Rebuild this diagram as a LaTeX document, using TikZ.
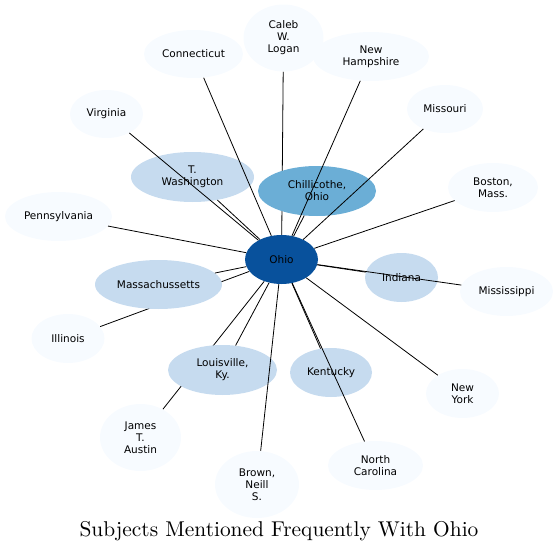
\documentclass[tikz,border=0pt]{standalone}
\usepackage{fontspec}
\newfontfamily\labelfont{DejaVu Sans}
\newfontfamily\titlefont{lmroman10-regular.otf}
\usetikzlibrary{shapes,positioning,backgrounds}
\definecolor{paleblue}{HTML}{F7FBFF}
\definecolor{lightblue}{HTML}{C6DBEF}
\definecolor{midblue}{HTML}{6BAED6}
\definecolor{darkblue}{HTML}{08519C}
\tikzset{
	subject/.style={ellipse, inner sep=0pt, minimum height=49pt, align=center,
		font=\labelfont\fontsize{10.5}{12}\selectfont},
	rare/.style={subject, fill=paleblue},
	common/.style={subject, fill=lightblue},
	link/.style={line width=0.8pt}
}

\begin{document}
\begin{tikzpicture}[x=1pt,y=-1pt]
	\useasboundingbox (0,0) rectangle (558,554);
	% Draw subjects
	\node[subject, fill=darkblue, minimum width=73pt] (ohio) at (281.5,259.5) {Ohio};
	\node[subject, fill=midblue, minimum width=118pt, minimum height=50pt] (chill) at (317,191) {Chillicothe,\\Ohio};
	\node[common, minimum width=123pt, minimum height=50pt] (wash) at (192.5,177) {T.\\Washington};
	\node[common, minimum width=127pt] (mass) at (158.5,284.5) {Massachussetts};
	\node[common, minimum width=73pt] (indiana) at (401.5,277.5) {Indiana};
	\node[common, minimum width=109pt, minimum height=50pt] (louis) at (222.5,370) {Louisville,\\Ky.};
	\node[common, minimum width=82pt] (kent) at (331,372.5) {Kentucky};
	\node[rare, minimum width=93pt] (miss) at (506.5,291.5) {Mississippi};
	\node[rare, minimum width=73pt] (illinois) at (68,338.5) {Illinois};
	\node[rare, minimum width=73pt, minimum height=48pt] (virginia) at (106.5,114) {Virginia};
	\node[rare, minimum width=99pt, minimum height=48pt] (conn) at (193.5,54) {Connecticut};
	\node[rare, minimum width=80pt, minimum height=67pt] (caleb) at (283.5,38) {Caleb\\W.\\Logan};
	\node[rare, minimum width=116pt] (nh) at (371,56.5) {New\\Hampshire};
	\node[rare, minimum width=76pt, minimum height=48pt] (missouri) at (445,109) {Missouri};
	\node[rare, minimum width=90pt] (boston) at (493,187.5) {Boston,\\Mass.};
	\node[rare, minimum width=107pt] (penn) at (58.5,216.5) {Pennsylvania};
	\node[rare, minimum width=73pt] (ny) at (462.5,393.5) {New\\York};
	\node[rare, minimum width=95pt] (nc) at (375.5,465.5) {North\\Carolina};
	\node[rare, minimum width=84pt, minimum height=67pt] (brown) at (257,484.5) {Brown,\\Neill\\S.};
	\node[rare, minimum width=81pt, minimum height=67pt] (james) at (140.5,437.5) {James\\T.\\Austin};
	% Draw links
	\foreach \n in {chill, wash, mass, indiana, miss, louis, kent, virginia, conn,
		nh, missouri, boston, penn, ny, nc, brown}
		\draw[link] (ohio) -- (\n);
	\begin{scope}[on background layer]
		\foreach \n in {caleb, illinois, james}
			\draw[link] (ohio) -- (\n);
	\end{scope}
	% Title
	\node[font=\titlefont\fontsize{21.4}{25}\selectfont] (title) at (279,531) {Subjects Mentioned Frequently With Ohio};
\end{tikzpicture}
\end{document}
